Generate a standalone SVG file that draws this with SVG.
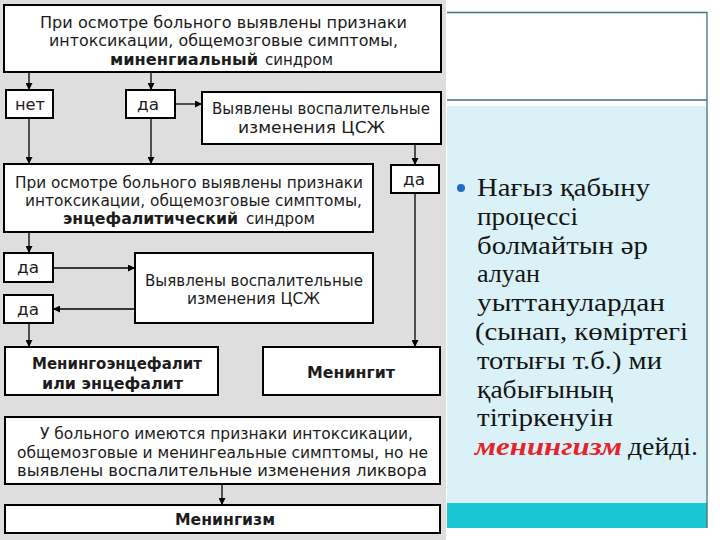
<svg xmlns="http://www.w3.org/2000/svg" width="720" height="540" viewBox="0 0 720 540">
<style>
.box{fill:#fff;stroke:#000;stroke-width:2}
.t{font-family:"DejaVu Sans",Verdana,sans-serif;font-size:15px;fill:#1c1c1c}
.b{font-weight:bold}
.c{stroke:#000;stroke-width:1.3;fill:none}
.r{font-family:"Liberation Serif","DejaVu Serif",serif;font-size:26px;fill:#151515}
</style>
<defs>
<marker id="ah" viewBox="0 0 8 8" refX="8" refY="4" markerWidth="7" markerHeight="7" markerUnits="userSpaceOnUse" orient="auto">
<path d="M0,0 L8,4 L0,8 Z" fill="#000"/>
</marker>
</defs>
<rect x="0" y="0" width="720" height="540" fill="#fff"/>
<rect x="0" y="0" width="446" height="540" fill="#dedede"/>
<g id="right-panel">
<rect x="447" y="106" width="260" height="397" fill="#daf2f7"/>
<rect x="447" y="503" width="260" height="25" fill="#19c6d1"/>
<path d="M447,12.5 H707 V528" fill="none" stroke="#3f7474" stroke-width="1.3"/>
<path d="M447,100 H707" fill="none" stroke="#3f7474" stroke-width="1.3"/>
<circle cx="461" cy="188" r="4" fill="#1f6cc4"/>
<text class="r" x="477" y="196" textLength="173" lengthAdjust="spacingAndGlyphs">Нағыз қабыну</text>
<text class="r" x="477" y="224.8" textLength="101" lengthAdjust="spacingAndGlyphs">процессі</text>
<text class="r" x="477" y="253.6" textLength="171" lengthAdjust="spacingAndGlyphs">болмайтын әр</text>
<text class="r" x="477" y="282.4" textLength="63" lengthAdjust="spacingAndGlyphs">алуан</text>
<text class="r" x="477" y="311.2" textLength="188" lengthAdjust="spacingAndGlyphs">уыттанулардан</text>
<text class="r" x="475" y="340" textLength="213" lengthAdjust="spacingAndGlyphs">(сынап, көміртегі</text>
<text class="r" x="477" y="368.8" textLength="185" lengthAdjust="spacingAndGlyphs">тотығы т.б.) ми</text>
<text class="r" x="477" y="397.6" textLength="136" lengthAdjust="spacingAndGlyphs">қабығының</text>
<text class="r" x="477" y="426.4" textLength="136" lengthAdjust="spacingAndGlyphs">тітіркенуін</text>
<text class="r" x="475" y="455.2" textLength="147" lengthAdjust="spacingAndGlyphs" font-weight="bold" font-style="italic" fill="#e3262b" style="fill:#e3262b">менингизм</text>
<text class="r" x="628" y="455.2" textLength="70" lengthAdjust="spacingAndGlyphs">дейді.</text>
</g>
<g id="connectors">
<line class="c" x1="29" y1="72" x2="29" y2="90" marker-end="url(#ah)"/>
<line class="c" x1="151" y1="72" x2="151" y2="90" marker-end="url(#ah)"/>
<line class="c" x1="175" y1="104" x2="202" y2="104" marker-end="url(#ah)"/>
<line class="c" x1="29" y1="118" x2="29" y2="164" marker-end="url(#ah)"/>
<line class="c" x1="151" y1="118" x2="151" y2="164" marker-end="url(#ah)"/>
<line class="c" x1="415" y1="144" x2="415" y2="165" marker-end="url(#ah)"/>
<line class="c" x1="415" y1="193" x2="415" y2="347" marker-end="url(#ah)"/>
<line class="c" x1="29" y1="232" x2="29" y2="253" marker-end="url(#ah)"/>
<line class="c" x1="53" y1="268" x2="135" y2="268" marker-end="url(#ah)"/>
<line class="c" x1="135" y1="309" x2="53" y2="309" marker-end="url(#ah)"/>
<line class="c" x1="29" y1="323" x2="29" y2="347" marker-end="url(#ah)"/>
<line class="c" x1="222" y1="484" x2="222" y2="505" marker-end="url(#ah)"/>
</g>
<g id="n1">
<rect class="box" x="4" y="5" width="437" height="67"/>
<text class="t" x="40" y="28" textLength="367" lengthAdjust="spacingAndGlyphs">При осмотре больного выявлены признаки</text>
<text class="t" x="49" y="46" textLength="349" lengthAdjust="spacingAndGlyphs">интоксикации, общемозговые симптомы,</text>
<text class="t b" x="110" y="65" textLength="148" lengthAdjust="spacingAndGlyphs">миненгиальный</text>
<text class="t" x="265" y="65" textLength="68" lengthAdjust="spacingAndGlyphs">синдром</text>
</g>
<g id="n-net">
<rect class="box" x="6" y="90" width="47" height="28"/>
<text class="t" x="15" y="110" textLength="30" lengthAdjust="spacingAndGlyphs">нет</text>
</g>
<g id="n-da1">
<rect class="box" x="126" y="90" width="49" height="28"/>
<text class="t" x="137" y="110" textLength="22" lengthAdjust="spacingAndGlyphs">да</text>
</g>
<g id="n-csf1">
<rect class="box" x="202" y="92" width="239" height="52"/>
<text class="t" x="212" y="114" textLength="218" lengthAdjust="spacingAndGlyphs">Выявлены воспалительные</text>
<text class="t" x="238" y="133" textLength="147" lengthAdjust="spacingAndGlyphs">изменения ЦСЖ</text>
</g>
<g id="n2">
<rect class="box" x="4" y="164" width="369" height="68"/>
<text class="t" x="15" y="188" textLength="348" lengthAdjust="spacingAndGlyphs">При осмотре больного выявлены признаки</text>
<text class="t" x="25" y="206" textLength="337" lengthAdjust="spacingAndGlyphs">интоксикации, общемозговые симптомы,</text>
<text class="t b" x="63" y="224" textLength="175" lengthAdjust="spacingAndGlyphs">энцефалитический</text>
<text class="t" x="246" y="224" textLength="69" lengthAdjust="spacingAndGlyphs">синдром</text>
</g>
<g id="n-da2">
<rect class="box" x="391" y="165" width="48" height="28"/>
<text class="t" x="403" y="185" textLength="22" lengthAdjust="spacingAndGlyphs">да</text>
</g>
<g id="n-da3">
<rect class="box" x="4" y="253" width="49" height="29"/>
<text class="t" x="17" y="273" textLength="22" lengthAdjust="spacingAndGlyphs">да</text>
</g>
<g id="n-csf2">
<rect class="box" x="135" y="253" width="238" height="70"/>
<text class="t" x="145" y="286" textLength="218" lengthAdjust="spacingAndGlyphs">Выявлены воспалительные</text>
<text class="t" x="187" y="304" textLength="133" lengthAdjust="spacingAndGlyphs">изменения ЦСЖ</text>
</g>
<g id="n-da4">
<rect class="box" x="4" y="295" width="49" height="28"/>
<text class="t" x="17" y="315" textLength="22" lengthAdjust="spacingAndGlyphs">да</text>
</g>
<g id="n-meningoenc">
<rect class="box" x="5" y="347" width="213" height="48"/>
<text class="t b" x="32" y="369" textLength="170" lengthAdjust="spacingAndGlyphs">Менингоэнцефалит</text>
<text class="t b" x="42" y="389" textLength="141" lengthAdjust="spacingAndGlyphs">или энцефалит</text>
</g>
<g id="n-meningit">
<rect class="box" x="263" y="347" width="177" height="48"/>
<text class="t b" x="307" y="378" textLength="88" lengthAdjust="spacingAndGlyphs">Менингит</text>
</g>
<g id="n3">
<rect class="box" x="5" y="417" width="435" height="67"/>
<text class="t" x="40" y="439" textLength="373" lengthAdjust="spacingAndGlyphs">У больного имеются признаки интоксикации,</text>
<text class="t" x="17" y="458" textLength="411" lengthAdjust="spacingAndGlyphs">общемозговые и менингеальные симптомы, но не</text>
<text class="t" x="17" y="476" textLength="410" lengthAdjust="spacingAndGlyphs">выявлены воспалительные изменения ликвора</text>
</g>
<g id="n-meningizm">
<rect class="box" x="5" y="505" width="435" height="28"/>
<text class="t b" x="175" y="525" textLength="100" lengthAdjust="spacingAndGlyphs">Менингизм</text>
</g>
</svg>
